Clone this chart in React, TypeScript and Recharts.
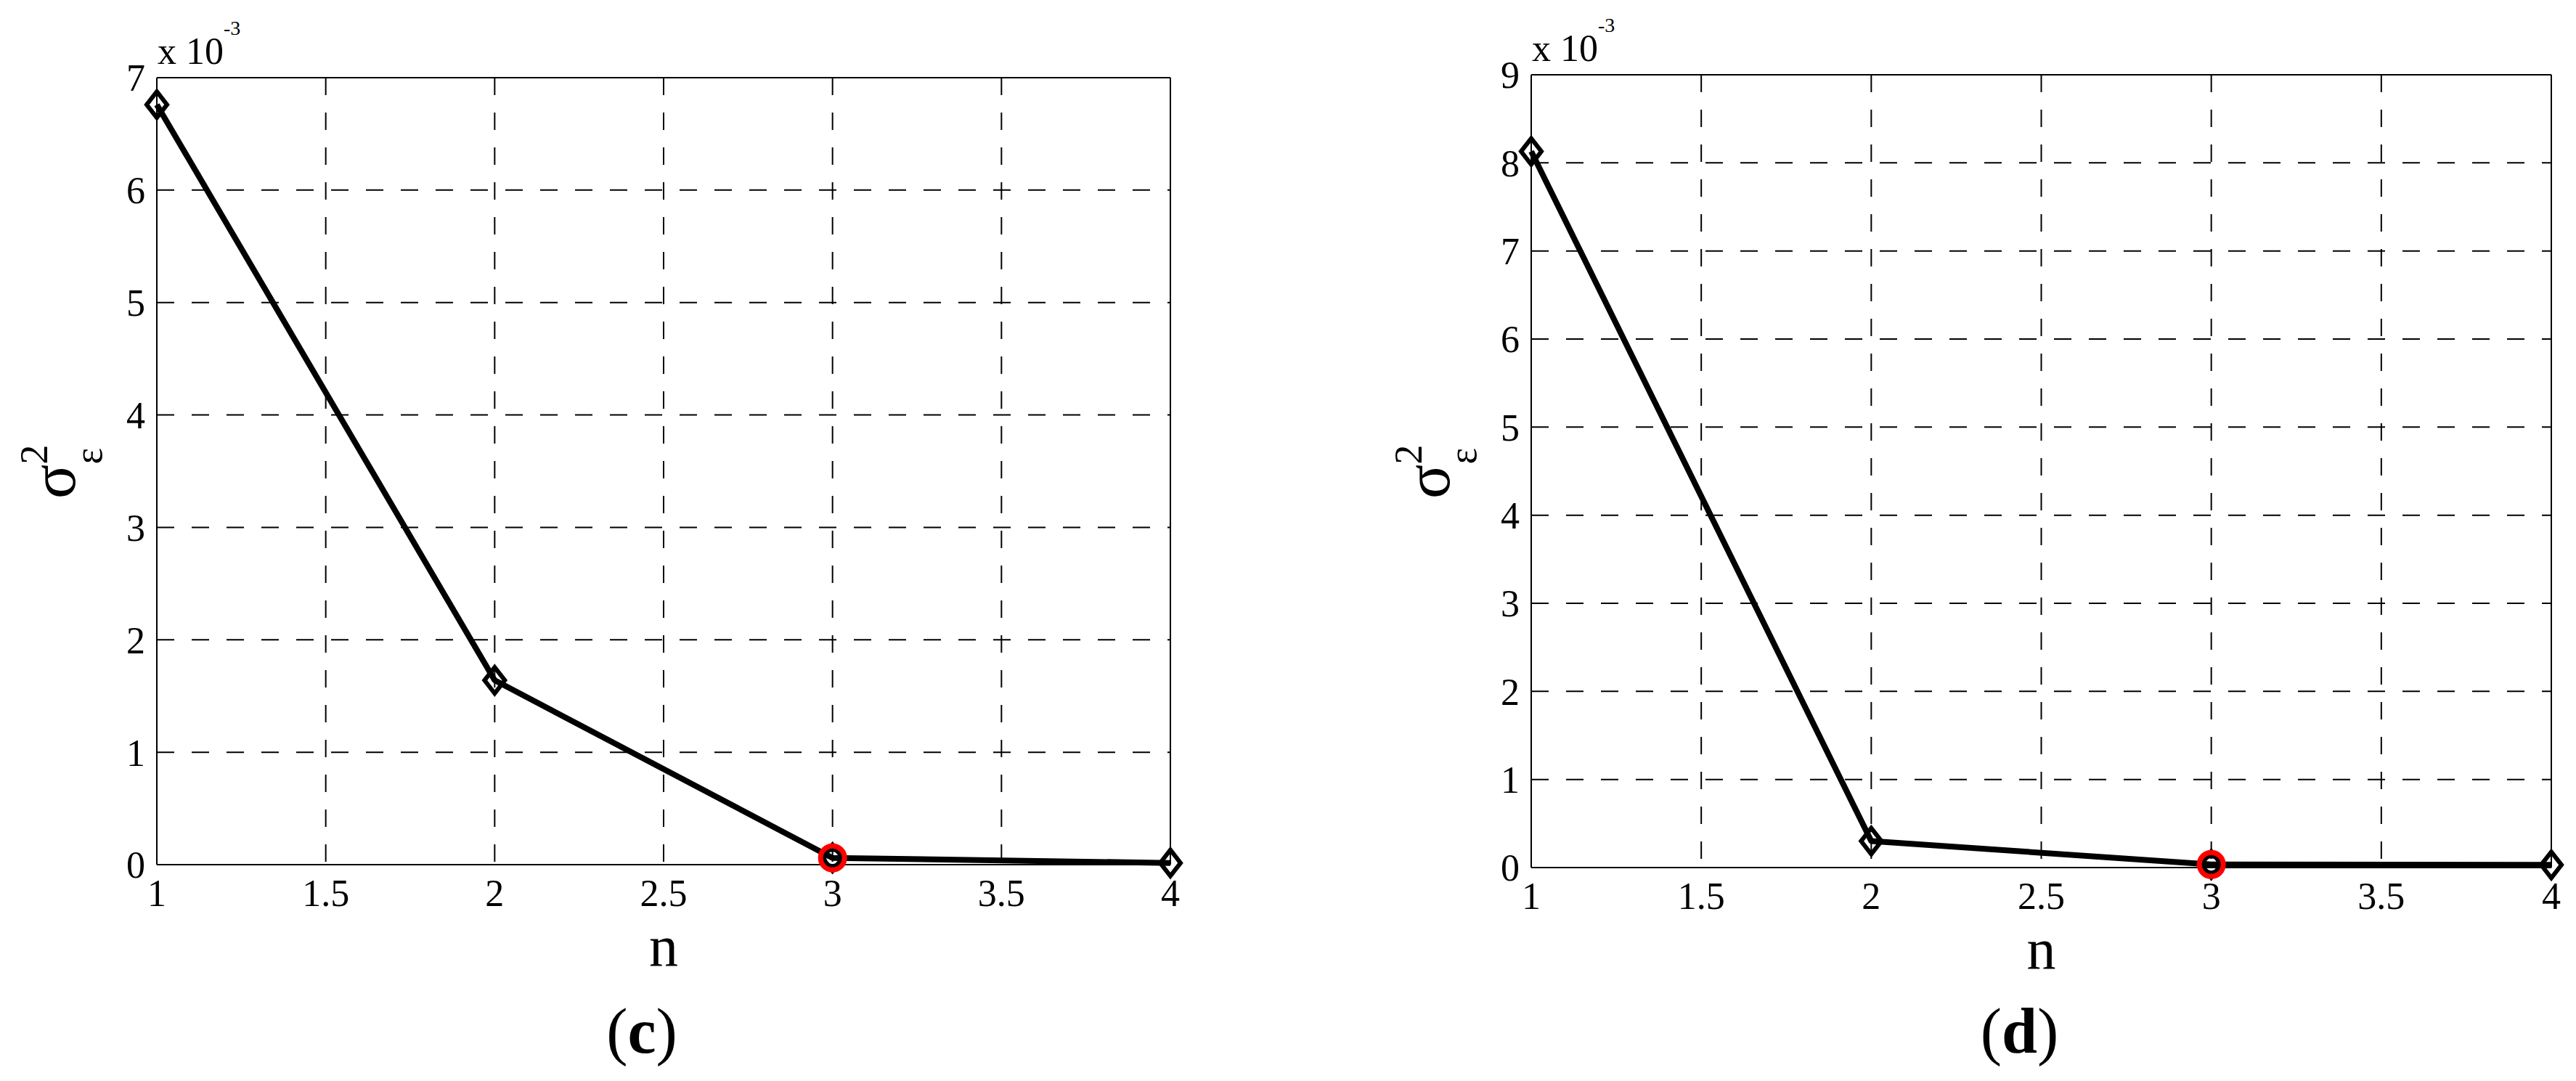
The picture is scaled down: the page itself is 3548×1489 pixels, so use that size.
import React from "react";
import { LineChart, Line, XAxis, YAxis, CartesianGrid, ReferenceLine } from "recharts";

// model order n and residual variance (in units of 10^-3)
const orders = [1, 2, 3, 4];
const varianceC = [6.76, 1.64, 0.06, 0.015];
const varianceD = [8.13, 0.3, 0.035, 0.03];
const chosenOrder = 3;

const xTicks = [1, 1.5, 2, 2.5, 3, 3.5, 4];
const yTicksC = [0, 1, 2, 3, 4, 5, 6, 7];
const yTicksD = [0, 1, 2, 3, 4, 5, 6, 7, 8, 9];
const panelTags = ["c", "d"];

const FONT = "'Liberation Serif', 'Times New Roman', serif";
const H = 1489;
const AXIS_W = 100;
const AXIS_H = 100;

const DiamondDot = (props: any) => {
  const { cx, cy, payload } = props;
  if (cx == null || cy == null) return null;
  const pts = `${cx},${cy - 18} ${cx + 14},${cy} ${cx},${cy + 18} ${cx - 14},${cy}`;
  return (
    <g>
      <polygon points={pts} fill="none" stroke="#000" strokeWidth={6} />
      {payload.n === chosenOrder && (
        <>
          <circle cx={cx} cy={cy} r={16.5} fill="none" stroke="#ff0000" strokeWidth={7} />
          <circle cx={cx} cy={cy} r={10.5} fill="none" stroke="#000" strokeWidth={4} />
        </>
      )}
    </g>
  );
};

type PanelProps = {
  left: number;
  width: number;
  plotLeft: number;
  plotRight: number;
  plotTop: number;
  plotBottom: number;
  values: number[];
  yTicks: number[];
  tag: string;
};

function Panel({ left, width, plotLeft, plotRight, plotTop, plotBottom, values, yTicks, tag }: PanelProps) {
  const data = orders.map((n, i) => ({ n, v: values[i] }));
  const yMax = yTicks[yTicks.length - 1];
  const midY = (plotTop + plotBottom) / 2;
  const midX = (plotLeft + plotRight) / 2;
  const sx = plotLeft - 113;
  const sy = midY + 38;

  const yLabel = () => (
    <g fontFamily={FONT} fill="#000">
      <text x={sx} y={sy} transform={`rotate(-90 ${sx} ${sy})`}>
        <tspan fontSize={88}>σ</tspan>
        <tspan fontSize={54} dy={-38}>2</tspan>
        <tspan fontSize={54} dx={-27} dy={75}>ε</tspan>
      </text>
      <text x={plotLeft + 1} y={plotTop - 19} fontSize={52}>
        x 10<tspan fontSize={28} dy={-40}>-3</tspan>
      </text>
    </g>
  );

  const xLabel = () => (
    <g fontFamily={FONT} fill="#000">
      <text x={midX} y={plotBottom + 139} fontSize={80} textAnchor="middle">n</text>
      <text x={midX - 30} y={1450} fontSize={88} textAnchor="middle">
        (<tspan fontWeight="bold">{tag}</tspan>)
      </text>
    </g>
  );

  return (
    <div style={{ position: "absolute", left, top: 0 }}>
      <LineChart
        width={width}
        height={H}
        data={data}
        margin={{
          top: plotTop,
          left: plotLeft - AXIS_W,
          right: width - plotRight,
          bottom: H - plotBottom - AXIS_H,
        }}
      >
        <CartesianGrid stroke="#000" strokeWidth={2} strokeDasharray="24 24" />
        <XAxis
          dataKey="n"
          type="number"
          domain={[1, 4]}
          ticks={xTicks}
          interval={0}
          height={AXIS_H}
          tickLine={false}
          tickSize={0}
          tickMargin={20}
          axisLine={{ stroke: "#000", strokeWidth: 2 }}
          tick={{ fontSize: 52, fill: "#000", fontFamily: FONT }}
          label={xLabel}
        />
        <YAxis
          type="number"
          domain={[0, yMax]}
          ticks={yTicks}
          interval={0}
          width={AXIS_W}
          tickLine={false}
          tickSize={0}
          tickMargin={16}
          axisLine={{ stroke: "#000", strokeWidth: 2 }}
          tick={{ fontSize: 52, fill: "#000", fontFamily: FONT }}
          label={yLabel}
        />
        <ReferenceLine y={yMax} stroke="#000" strokeWidth={2} />
        <ReferenceLine x={4} stroke="#000" strokeWidth={2} />
        <Line
          type="linear"
          dataKey="v"
          stroke="#000"
          strokeWidth={8}
          strokeLinejoin="round"
          dot={DiamondDot}
          activeDot={false}
          isAnimationActive={false}
        />
      </LineChart>
    </div>
  );
}

export default function App() {
  return (
    <div style={{ position: "absolute", left: 0, top: 0, width: 3548, height: H, background: "#fff" }}>
      <Panel
        left={0}
        width={1760}
        plotLeft={216}
        plotRight={1612}
        plotTop={107}
        plotBottom={1191}
        values={varianceC}
        yTicks={yTicksC}
        tag={panelTags[0]}
      />
      <Panel
        left={1774}
        width={1774}
        plotLeft={335}
        plotRight={1740}
        plotTop={103}
        plotBottom={1195}
        values={varianceD}
        yTicks={yTicksD}
        tag={panelTags[1]}
      />
    </div>
  );
}
